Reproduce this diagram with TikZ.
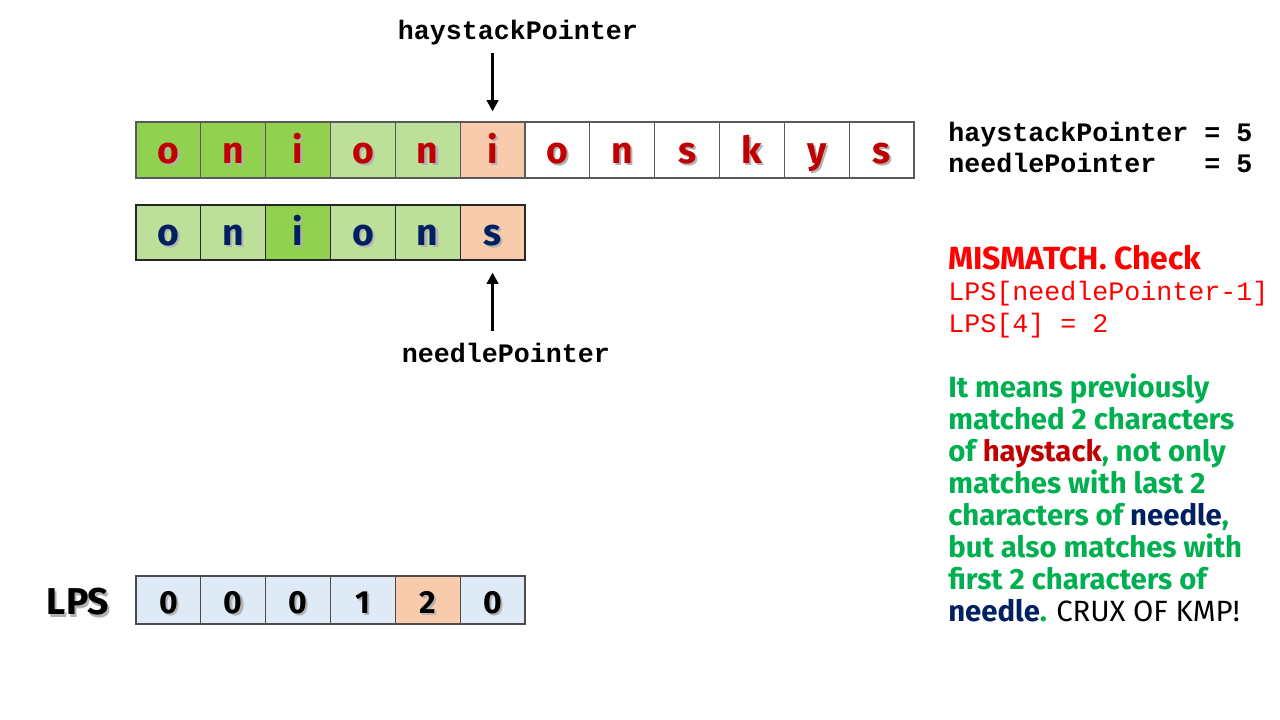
\documentclass[tikz,border=0pt]{standalone}
\usepackage{fontspec}
\setmonofont{Liberation Mono}
\newfontfamily\cfont{Fira Sans}
\usetikzlibrary{arrows.meta}
\definecolor{cgreen}{HTML}{92D050}
\definecolor{pgreen}{HTML}{BCE09A}
\definecolor{peach}{HTML}{F8CBAD}
\definecolor{lblue}{HTML}{DEEBF7}
\definecolor{dred}{HTML}{C00000}
\definecolor{navy}{HTML}{002060}
\definecolor{tgreen}{HTML}{00B050}
\definecolor{bred}{HTML}{FF0000}
\newcommand{\shd}[1]{\rlap{\textcolor{black!30}{\kern1.6pt\raisebox{-1.6pt}{#1}}}#1}
\tikzset{
  cellbox/.style={draw=black!65, line width=0.8pt, minimum width=48.62pt, minimum height=42pt, inner sep=0pt, text height=20.5pt, text depth=0.5pt, font=\cfont\bfseries\fontsize{28}{30}\selectfont},
  lpsbox/.style={draw=black!70, line width=0.8pt, minimum width=48.62pt, minimum height=36pt, inner sep=0pt, text height=20pt, text depth=0.5pt, fill=lblue, font=\cfont\bfseries\fontsize{24}{26}\selectfont},
  ptr/.style={line width=2.3pt, -{Triangle[length=8.5pt,width=8.5pt]}},
  monolbl/.style={inner sep=0pt, font=\ttfamily\bfseries\fontsize{20}{24}\selectfont},
  txt/.style={inner sep=0pt, anchor=base west, align=left}
}
\begin{document}
\begin{tikzpicture}[x=0.75pt,y=-0.75pt]
\useasboundingbox (0,0) rectangle (1280,720);
% haystack row
\foreach \c/\f [count=\i from 0] in {o/cgreen,n/cgreen,i/cgreen,o/pgreen,n/pgreen,i/peach,o/white,n/white,s/white,k/white,y/white,s/white}
  \node[cellbox, fill=\f, text=dred] (h\i) at ({136+64.83*(\i+0.5)},150) {\shd{\c}};
% needle row
\foreach \c/\f [count=\i from 0] in {o/pgreen,n/pgreen,i/cgreen,o/pgreen,n/pgreen,s/peach}
  \node[cellbox, draw=black!85, minimum height=41.25pt, fill=\f, text=navy] (n\i) at ({136+64.83*(\i+0.5)},232.5) {\shd{\c}};
% LPS row
\foreach \c/\f [count=\i from 0] in {0/lblue,0/lblue,0/lblue,1/lblue,2/peach,0/lblue}
  \node[lpsbox, fill=\f] (l\i) at ({136+64.83*(\i+0.5)},600) {\shd{\c}};
\node[inner sep=0pt, font=\cfont\bfseries\fontsize{28}{30}\selectfont] (lpslbl) at (78,603) {\shd{LPS}};
% pointers
\node[monolbl] (hp) at (518,33) {haystackPointer};
\node[monolbl] (np) at (506,353) {needlePointer};
\draw[ptr] (hp.south -| h5) ++(0,7) coordinate (hpa) -- ([yshift=7.5pt]h5.north);
\coordinate (npa) at (np.north -| n5);
\draw[ptr] ([yshift=9pt]npa) -- ([yshift=-9pt]n5.south);
% right texts
\node[txt, font=\ttfamily\bfseries\fontsize{20}{23.25}\selectfont] (vals) at (948,173) {haystackPointer = 5\\needlePointer\ \ \ = 5};
\node[txt, font=\cfont\bfseries\fontsize{24}{26}\selectfont, text=bred] (mism) at (948,269) {MISMATCH. Check};
\node[txt, font=\ttfamily\fontsize{20}{24}\selectfont, text=bred] (lpsx) at (948,332) {LPS[needlePointer-1]\\LPS[4] = 2};
\node[txt, font=\cfont\bfseries\fontsize{22}{24}\selectfont, text=tgreen] (expl) at (948,621) {It means previously\\matched 2 characters\\of \textcolor{dred}{haystack}, not only\\matches with last 2\\characters of \textcolor{navy}{needle},\\but also matches with\\first 2 characters of\\\textcolor{navy}{needle}. \textcolor{black}{\mdseries CRUX OF KMP!}};
\end{tikzpicture}
\end{document}
